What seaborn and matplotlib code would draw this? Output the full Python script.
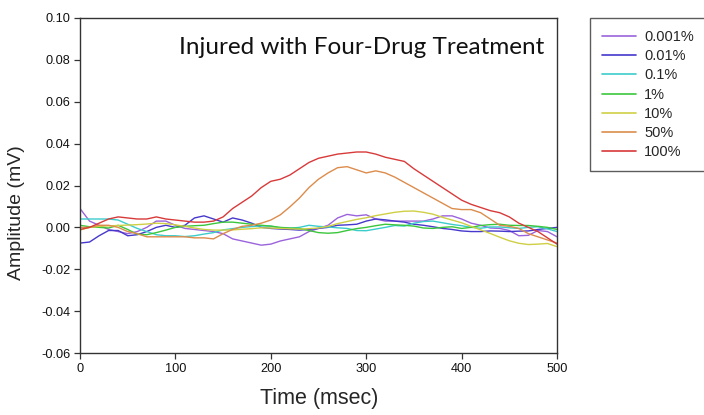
import numpy as np
import pandas as pd
import matplotlib
matplotlib.use("Agg")
import matplotlib.pyplot as plt
import seaborn as sns

time_ms = list(range(0, 501, 10))

conc_labels = ["0.001%", "0.01%", "0.1%", "1%", "10%", "50%", "100%"]

amp_0001 = [0.009, 0.003, 0.001, -0.001, -0.002, -0.003, -0.002, 0.000, 0.003, 0.003,
            0.001, -0.0005, -0.001, -0.0015, -0.002, -0.003, -0.0055, -0.0065, -0.0075, -0.0085,
            -0.008, -0.0065, -0.0055, -0.0045, -0.002, -0.0005, 0.001, 0.0045, 0.0062, 0.0055,
            0.006, 0.004, 0.003, 0.003, 0.003, 0.003, 0.003, 0.004, 0.0055, 0.0055,
            0.004, 0.002, 0.001, -0.0003, -0.0005, -0.0015, -0.004, -0.0038, -0.0015, -0.002,
            -0.0045]
amp_001 = [-0.0075, -0.007, -0.004, -0.0015, -0.0015, -0.004, -0.0035, -0.002, 0.000, 0.001,
           0.0, 0.001, 0.0045, 0.0055, 0.004, 0.0025, 0.0045, 0.0035, 0.002, 0.000,
           -0.0005, -0.0008, -0.001, -0.0013, -0.001, -0.0005, 0.0, 0.001, 0.0012, 0.0015,
           0.003, 0.004, 0.0036, 0.003, 0.0025, 0.0015, 0.001, 0.0003, -0.0005, -0.001,
           -0.0017, -0.002, -0.002, -0.0017, -0.0018, -0.002, -0.0018, -0.0017, -0.001, -0.0005,
           0.0]
amp_01 = [0.004, 0.004, 0.004, 0.004, 0.0035, 0.0015, -0.0005, -0.002, -0.0035, -0.004,
          -0.004, -0.0044, -0.004, -0.0032, -0.0025, -0.0012, -0.0006, 0.0, 0.0004, 0.0007,
          0.0006, -0.0003, -0.0004, 0.0, 0.001, 0.0005, 0.0002, -0.0002, -0.0005, -0.0015,
          -0.0016, -0.0008, 0.0, 0.0009, 0.0006, 0.002, 0.0028, 0.003, 0.0022, 0.0014,
          0.0008, 0.0, -0.0004, 0.0002, 0.0002, -0.0002, -0.0005, 0.0, 0.0003, -0.0007,
          -0.002]
amp_1 = [0.001, 0.0003, 0.0, -0.0003, 0.001, -0.001, -0.0033, -0.0035, -0.0025, -0.0013,
         0.0, 0.0005, 0.0008, 0.001, 0.0018, 0.0025, 0.0025, 0.002, 0.0015, 0.001,
         0.0006, 0.0, -0.0003, -0.0005, -0.0015, -0.0025, -0.0028, -0.0025, -0.0015, -0.0006,
         0.0, 0.0008, 0.0015, 0.0012, 0.001, 0.0006, -0.0003, -0.0005, 0.0, 0.0003,
         -0.0005, 0.0, 0.0009, 0.0013, 0.0015, 0.001, 0.0009, 0.0009, 0.0005, 0.0,
         -0.001]
amp_10 = [-0.0013, 0.0, 0.0005, 0.0007, 0.0009, 0.0011, 0.0013, 0.0016, 0.002, 0.0018,
          0.0012, 0.0005, -0.0003, -0.001, -0.0013, -0.0013, -0.0012, -0.0009, -0.0006, -0.0002,
          -0.0003, -0.0005, -0.0007, -0.0008, -0.0006, -0.0003, 0.0005, 0.0018, 0.0028, 0.0038,
          0.0046, 0.0056, 0.0064, 0.0072, 0.0077, 0.0078, 0.0072, 0.0063, 0.0048, 0.0035,
          0.0022, 0.0005, -0.0012, -0.0029, -0.0047, -0.0064, -0.0076, -0.0082, -0.008, -0.0077,
          -0.0092]
amp_50 = [0.000, 0.000, 0.001, 0.001, 0.000, -0.002, -0.003, -0.0045, -0.0045, -0.0045,
          -0.0045, -0.0045, -0.005, -0.005, -0.0055, -0.003, -0.001, 0.0005, 0.001, 0.002,
          0.0035, 0.006, 0.0098, 0.014, 0.019, 0.023, 0.026, 0.0285, 0.029, 0.0275,
          0.026, 0.027, 0.026, 0.024, 0.0215, 0.019, 0.0165, 0.014, 0.0115, 0.009,
          0.0085, 0.0085, 0.007, 0.004, 0.001, 0.0005, -0.0005, -0.003, -0.0045, -0.006,
          -0.0075]
amp_100 = [-0.001, 0.000, 0.002, 0.004, 0.005, 0.0045, 0.004, 0.004, 0.005, 0.004,
           0.0035, 0.003, 0.0025, 0.0025, 0.003, 0.005, 0.009, 0.012, 0.015, 0.019,
           0.022, 0.023, 0.025, 0.028, 0.031, 0.033, 0.034, 0.035, 0.0355, 0.036,
           0.036, 0.035, 0.0335, 0.0325, 0.0315, 0.028, 0.025, 0.022, 0.019, 0.016,
           0.013, 0.011, 0.0095, 0.008, 0.007, 0.005, 0.002, 0.000, -0.002, -0.005,
           -0.008]

series = [amp_0001, amp_001, amp_01, amp_1, amp_10, amp_50, amp_100]

x_ticks = [0, 100, 200, 300, 400, 500]
y_ticks = [-0.06, -0.04, -0.02, 0.00, 0.02, 0.04, 0.06, 0.08, 0.10]

colors = ["#9b63dc", "#4638cc", "#3ccccc", "#3cc63c", "#cfcf45", "#dc8c4c", "#d83a3a"]

frames = []
for lab, vals in zip(conc_labels, series):
    frames.append(pd.DataFrame({"Time": time_ms, "Amplitude": vals, "Conc": lab}))
df = pd.concat(frames, ignore_index=True)

sns.set_theme(style="white")
plt.rcParams["font.family"] = ["Liberation Sans", "DejaVu Sans"]

fig = plt.figure(figsize=(7.04, 4.15), dpi=100)
ax = fig.add_axes([80 / 704, 1 - 353 / 415, (557 - 80) / 704, (353 - 18) / 415])

sns.lineplot(data=df, x="Time", y="Amplitude", hue="Conc", hue_order=conc_labels,
             palette=colors, linewidth=1.0, ax=ax, legend=False)

ax.set_xlim(0, 500)
ax.set_ylim(-0.06, 0.10)
ax.set_xticks(x_ticks)
ax.set_xticklabels([str(t) for t in x_ticks], fontsize=9.2, color="#111111")
ax.set_yticks(y_ticks)
ax.set_yticklabels([f"{v:.2f}" for v in y_ticks], fontsize=9.2, color="#111111")
ax.tick_params(axis="both", direction="out", length=4, width=0.9, color="#333333",
               bottom=True, left=True, top=False, right=False, pad=3)

for sp in ax.spines.values():
    sp.set_color("#333333")
    sp.set_linewidth(1.0)

ax.set_xlabel("")
ax.set_ylabel("")
fig.text(319 / 704, 1 - 398 / 415, "Time (msec)", ha="center", va="center", fontsize=15.5)
fig.text(17 / 704, 1 - 213 / 415, "Amplitude (mV)", ha="center", va="center",
         rotation=90, fontsize=14)

fig.text(362 / 704, 1 - 47 / 415, "Injured with Four-Drug Treatment", ha="center",
         va="center", fontsize=17.5, family=["Lato", "DejaVu Sans"], color="#111111")

handles = [plt.Line2D([], [], color=c, linewidth=1.2) for c in colors]
leg = fig.legend(handles, conc_labels, loc="upper left",
                 bbox_to_anchor=(590 / 704, 1 - 18 / 415), fontsize=10.5,
                 frameon=True, fancybox=False, handlelength=2.3, handletextpad=0.6,
                 labelspacing=0.36, borderpad=0.82, borderaxespad=0)
leg.get_frame().set_edgecolor("#333333")
leg.get_frame().set_linewidth(1.0)

fig.savefig("out.png", dpi=100)
